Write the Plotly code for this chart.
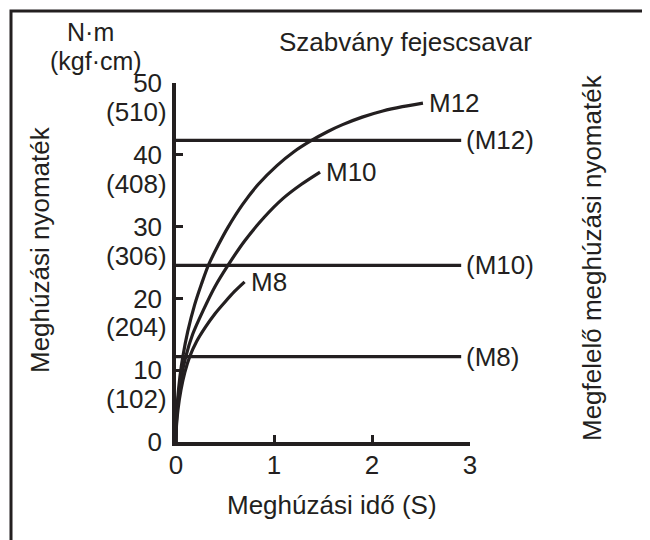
import plotly.graph_objects as go

# ---------------- data ----------------
m12_time = [0, 0.004, 0.015, 0.04, 0.07, 0.12, 0.19, 0.26, 0.33, 0.43, 0.53, 0.68, 0.84, 1.03,
            1.20, 1.37, 1.55, 1.70, 1.90, 2.11, 2.31, 2.52]
m12_torque = [0, 2.9, 5.6, 9.1, 11.9, 15.4, 19.1, 22.0, 24.6, 27.4, 29.9, 33.1, 35.9, 38.5,
              40.4, 41.9, 43.25, 44.2, 45.25, 46.1, 46.7, 47.2]

m10_time = [0, 0.005, 0.02, 0.05, 0.10, 0.17, 0.28, 0.40, 0.53, 0.70, 0.90, 1.09, 1.28, 1.47]
m10_torque = [0, 2.9, 5.7, 8.7, 11.9, 15.0, 18.4, 21.7, 24.6, 28.0, 31.3, 33.9, 35.9, 37.6]

m8_time = [0, 0.005, 0.02, 0.05, 0.09, 0.14, 0.21, 0.30, 0.40, 0.50, 0.60, 0.70]
m8_torque = [0, 2.3, 4.5, 7.2, 9.7, 11.9, 14.0, 16.0, 17.9, 19.5, 21.0, 22.3]

curve_names = ["M12", "M10", "M8"]
ref_names = ["(M12)", "(M10)", "(M8)"]
ref_torque = [42.0, 24.6, 11.9]
ref_span = [0, 2.91]

y_tick_vals = [0, 10, 20, 30, 40, 50]
y_tick_text = ["0", "10", "20", "30", "40", "50"]
y_kgf_text = ["(102)", "(204)", "(306)", "(408)", "(510)"]
y_kgf_at = [10, 20, 30, 40, 50]
x_tick_vals = [0, 1, 2, 3]
x_tick_text = ["0", "1", "2", "3"]

# ---------------- layout helpers ----------------
W, H = 650, 540
OFF = 8                       # page body margin in the screenshot
L, R, T, B = 168, 188, 75, 106
PW, PH = W - L - R, H - T - B
INK = "#231f20"
FONT = "Liberation Sans, Arial, sans-serif"
FS = 26
KGF_DROP = 4.05               # kgf label sits this far below its N·m tick


def px(x):
    """screen x (pixels) -> paper fraction"""
    return (x - OFF - L) / PW


def py(y):
    """screen y (pixels) -> paper fraction"""
    return (H - B - (y - OFF)) / PH


fig = go.Figure()

for name, xs, ys in zip(curve_names, [m12_time, m10_time, m8_time],
                        [m12_torque, m10_torque, m8_torque]):
    fig.add_trace(go.Scatter(x=xs, y=ys, mode="lines", name=name,
                             line=dict(color=INK, width=3.2, shape="spline", smoothing=0.8),
                             hoverinfo="skip"))
    fig.add_annotation(x=xs[-1] + 0.05, y=ys[-1], xref="x", yref="y", text=name,
                       showarrow=False, xanchor="left", yanchor="middle", borderpad=0,
                       font=dict(size=FS, color=INK, family=FONT))

for name, v in zip(ref_names, ref_torque):
    fig.add_trace(go.Scatter(x=ref_span, y=[v, v], mode="lines", name=name,
                             line=dict(color=INK, width=3.2), hoverinfo="skip"))
    fig.add_annotation(x=ref_span[1] + 0.04, y=v, xref="x", yref="y", text=name,
                       showarrow=False, xanchor="left", yanchor="middle", borderpad=0,
                       font=dict(size=FS, color=INK, family=FONT))

# secondary (kgf·cm) tick labels
for v, t in zip(y_kgf_at, y_kgf_text):
    fig.add_annotation(x=px(168), y=v - KGF_DROP, xref="paper", yref="y", text=t,
                       showarrow=False, xanchor="right", yanchor="middle", borderpad=0,
                       font=dict(size=FS, color=INK, family=FONT))

texts = [
    ("N·m", 90, 32, 0, 25),
    ("(kgf·cm)", 96, 61, 0, 25),
    ("Szabvány fejescsavar", 405, 42, 0, FS),
    ("Meghúzási nyomaték", 40, 250, -90, FS),
    ("Megfelelő meghúzási nyomaték", 592, 258, -90, FS),
    ("Meghúzási idő (S)", 332, 505, 0, FS),
]
for t, x, y, ang, fs in texts:
    fig.add_annotation(x=px(x), y=py(y), xref="paper", yref="paper", text=t,
                       showarrow=False, xanchor="center", yanchor="middle", textangle=ang,
                       borderpad=0, font=dict(size=fs, color=INK, family=FONT))

# outer frame (the viewport crops its right and bottom edges)
fig.add_shape(type="rect", xref="paper", yref="paper",
              x0=px(11), x1=px(700), y0=py(11), y1=py(620),
              line=dict(color=INK, width=3), fillcolor="rgba(0,0,0,0)")

fig.update_layout(
    width=W, height=H, autosize=False,
    margin=dict(l=L, r=R, t=T, b=B, pad=0),
    plot_bgcolor="white", paper_bgcolor="white",
    showlegend=False,
    font=dict(family=FONT, size=FS, color=INK),
    xaxis=dict(range=[0, 3], showgrid=False, zeroline=False,
               showline=True, linecolor=INK, linewidth=3.5,
               ticks="inside", ticklen=7, tickwidth=3, tickcolor=INK,
               tickvals=x_tick_vals, ticktext=x_tick_text, ticklabelstandoff=-3,
               tickfont=dict(size=FS, color=INK, family=FONT)),
    yaxis=dict(range=[0, 50], showgrid=False, zeroline=False,
               showline=True, linecolor=INK, linewidth=3.5,
               ticks="inside", ticklen=7, tickwidth=3, tickcolor=INK,
               tickvals=y_tick_vals, ticktext=y_tick_text, ticklabelstandoff=5,
               tickfont=dict(size=FS, color=INK, family=FONT)),
)

fig.write_html("out.html")
